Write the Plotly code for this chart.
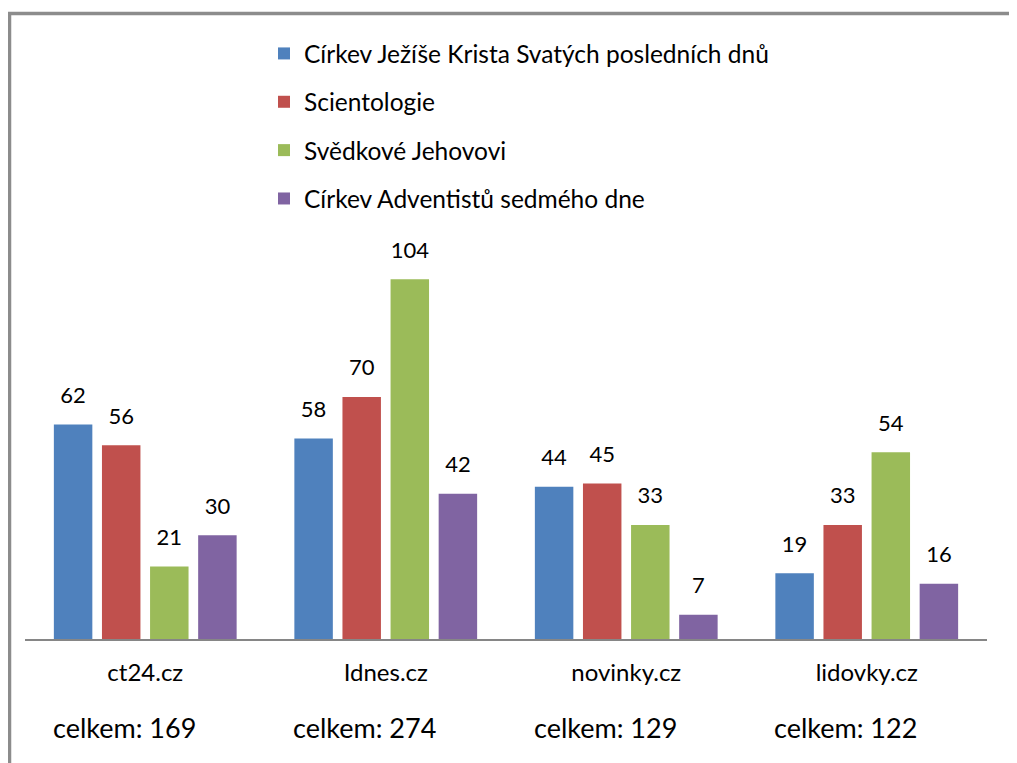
import plotly.graph_objects as go

categories = ["ct24.cz", "Idnes.cz", "novinky.cz", "lidovky.cz"]
series_names = [
    "Církev Ježíše Krista Svatých posledních dnů",
    "Scientologie",
    "Svědkové Jehovovi",
    "Církev Adventistů sedmého dne",
]
mormon = [62, 58, 44, 19]
scientology = [56, 70, 45, 33]
jehovah = [21, 104, 33, 54]
adventist = [30, 42, 7, 16]
colors = ["#4F81BD", "#C0504D", "#9BBB59", "#8064A2"]

series_values = [mormon, scientology, jehovah, adventist]
totals = [sum(v) for v in zip(*series_values)]

FONT = "Lato"
# page has an 8px body margin; figure coordinates = page coordinates - 8
OFF = 8
W, H = 1017 - OFF, 763 - OFF
ML = 25 - OFF
MR = W - (987 - OFF)
MT = 224 - OFF
MB = H - (639 - OFF)
plot_h = H - MT - MB
plot_w = W - ML - MR

def py(page_y):
    return (H - MB - (page_y - OFF)) / plot_h

def px(page_x):
    return ((page_x - OFF) - ML) / plot_w

fig = go.Figure()
for i, (name, vals, col) in enumerate(zip(series_names, series_values, colors)):
    fig.add_trace(go.Bar(
        x=categories, y=vals, name=name, marker=dict(color=col, line=dict(width=0)),
        offsetgroup=str(i), legendgroup=str(i), hoverinfo="skip",
    ))
for i, (name, vals) in enumerate(zip(series_names, series_values)):
    fig.add_trace(go.Scatter(
        x=categories, y=vals, mode="markers+text", text=[str(v) for v in vals],
        textposition="top center", textfont=dict(family=FONT, size=22, color="#000000"),
        marker=dict(size=24, opacity=0), offsetgroup=str(i), showlegend=False,
        hoverinfo="skip", cliponaxis=False,
    ))

for cat, tot in zip(categories, totals):
    fig.add_annotation(
        x=cat, xref="x", y=py(727), yref="paper", text=f"celkem: {tot}",
        showarrow=False, xshift=-21, yanchor="middle",
        font=dict(family=FONT, size=27, color="#000000"),
    )

fig.add_shape(type="rect", xref="paper", yref="paper",
              x0=px(9.5), x1=1.2, y0=-1.0, y1=py(13.5),
              line=dict(color="#8C8C8C", width=3.5), fillcolor="rgba(0,0,0,0)")

fig.update_layout(
    width=W, height=H,
    margin=dict(l=ML, r=MR, t=MT, b=MB),
    paper_bgcolor="white", plot_bgcolor="white",
    barmode="group", bargap=0.2, bargroupgap=0.2,
    scattermode="group", scattergap=0.2,
    font=dict(family=FONT, color="#000000"),
    showlegend=True,
    legend=dict(
        x=px(264), xanchor="left",
        y=py(31), yanchor="top",
        font=dict(family=FONT, size=24.5, color="#000000"),
        tracegroupgap=13.5, bgcolor="rgba(0,0,0,0)",
    ),
    xaxis=dict(showline=True, linecolor="#868686", linewidth=1.5, ticks="",
               tickfont=dict(family=FONT, size=24, color="#000000"),
               ticklabelstandoff=11, showgrid=False, zeroline=False, fixedrange=True),
    yaxis=dict(range=[0, 120], visible=False, showgrid=False, zeroline=False, fixedrange=True),
)

fig.write_html("out.html")
